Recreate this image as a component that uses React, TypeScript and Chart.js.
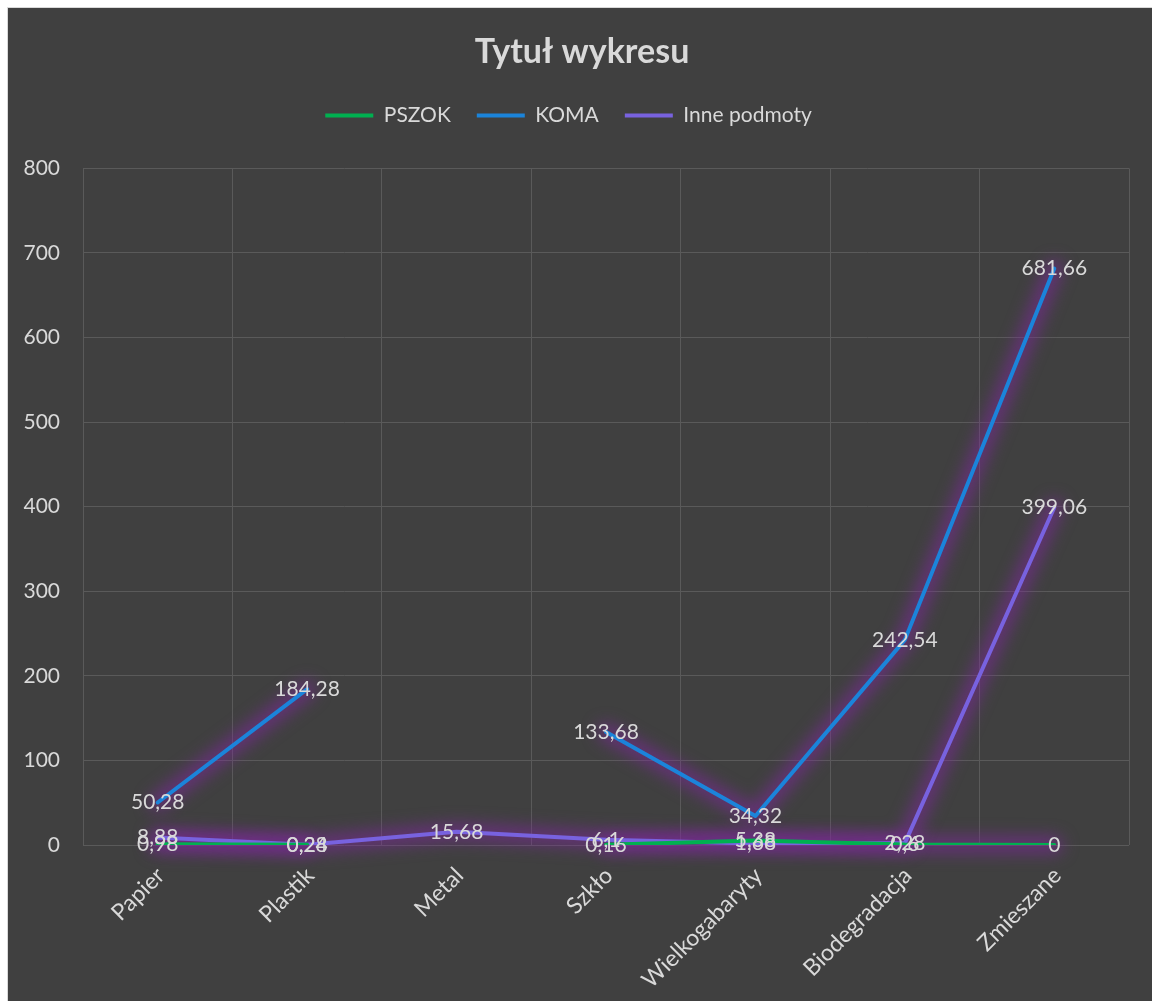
import React, { useEffect, useRef } from 'react';
import { Chart, registerables } from 'chart.js';

Chart.register(...registerables);

// ---- data ----
const categories = ['Papier', 'Plastik', 'Metal', 'Szkło', 'Wielkogabaryty', 'Biodegradacja', 'Zmieszane'];
const seriesNames = ['PSZOK', 'KOMA', 'Inne podmoty'];
const pszokValues = [0.98, 0.24, null, 0.16, 5.38, 0.6, 0];
const komaValues = [50.28, 184.28, null, 133.68, 34.32, 242.54, 681.66];
const inneValues = [8.88, 0.28, 15.68, 6.1, 1.68, 2.28, 399.06];
const yTickValues = [0, 100, 200, 300, 400, 500, 600, 700, 800];
const chartTitle = 'Tytuł wykresu';

// ---- styles ----
const seriesColors = ['#00B050', '#1B84DA', '#7862DF'];
const textColor = '#d9d9d9';
const gridColor = '#5a5a5a';
const bgColor = '#404040';
const FONT = 'Lato';

const fmt = (v: number) => String(v).replace('.', ',');

const glowPlugin = {
  id: 'glowPlugin',
  beforeDatasetsDraw(chart: any) {
    const ctx = chart.ctx;
    ctx.save();
    ctx.filter = 'blur(8px)';
    ctx.strokeStyle = 'rgba(125,40,155,0.6)';
    ctx.lineWidth = 18;
    ctx.lineJoin = 'round';
    ctx.lineCap = 'round';
    chart.data.datasets.forEach((ds: any, i: number) => {
      const meta = chart.getDatasetMeta(i);
      ctx.beginPath();
      let pen = false;
      meta.data.forEach((pt: any, j: number) => {
        if (ds.data[j] == null) {
          pen = false;
          return;
        }
        if (!pen) {
          ctx.moveTo(pt.x, pt.y);
          pen = true;
        } else {
          ctx.lineTo(pt.x, pt.y);
        }
      });
      ctx.stroke();
    });
    ctx.restore();
  },
};

const labelPlugin = {
  id: 'labelPlugin',
  afterDatasetsDraw(chart: any) {
    const ctx = chart.ctx;
    ctx.save();
    ctx.font = `21px ${FONT}`;
    ctx.fillStyle = textColor;
    ctx.textAlign = 'center';
    ctx.textBaseline = 'middle';
    chart.data.datasets.forEach((ds: any, i: number) => {
      const meta = chart.getDatasetMeta(i);
      meta.data.forEach((pt: any, j: number) => {
        const v = ds.data[j];
        if (v == null) return;
        ctx.fillText(fmt(v), pt.x, pt.y);
      });
    });
    ctx.restore();
  },
};

// chart title, centred like the original (slightly right of the legend)
const titlePlugin = {
  id: 'titlePlugin',
  afterDraw(chart: any) {
    const ctx = chart.ctx;
    ctx.save();
    ctx.font = `bold 34px ${FONT}`;
    ctx.fillStyle = textColor;
    ctx.textAlign = 'center';
    ctx.textBaseline = 'middle';
    ctx.fillText(chartTitle, 574, 44);
    ctx.restore();
  },
};

export default function App() {
  const ref = useRef<HTMLCanvasElement>(null);

  useEffect(() => {
    if (!ref.current) return;
    Chart.defaults.font.family = FONT;
    Chart.defaults.color = textColor;
    const allValues = [pszokValues, komaValues, inneValues];
    const chart = new Chart(ref.current, {
      type: 'line',
      data: {
        labels: categories,
        datasets: allValues.map((vals, i) => ({
          label: seriesNames[i],
          data: vals,
          borderColor: seriesColors[i],
          backgroundColor: seriesColors[i],
          borderWidth: 4,
          pointRadius: 0,
          pointHoverRadius: 0,
          tension: 0,
          spanGaps: false,
          borderCapStyle: 'round',
          borderJoinStyle: 'round',
        })),
      },
      options: {
        responsive: false,
        animation: false,
        events: [],
        layout: { padding: { left: 0, right: 23, top: 71, bottom: 0 } },
        plugins: {
          title: { display: false },
          subtitle: {
            display: true,
            text: '',
            weight: 100,
            font: { size: 27, lineHeight: 1.2 },
            padding: { top: 0, bottom: 0 },
          },
          legend: {
            display: true,
            position: 'top',
            labels: {
              color: textColor,
              font: { size: 21, family: FONT },
              boxWidth: 48,
              boxHeight: 4,
              padding: 26,
              generateLabels: (c: any) => {
                const items = (Chart.defaults.plugins.legend.labels as any).generateLabels(c);
                return items.map((it: any) => ({ ...it, lineWidth: 0 }));
              },
            },
          },
          tooltip: { enabled: false },
        },
        scales: {
          x: {
            offset: true,
            grid: { color: gridColor, offset: true, drawTicks: false, lineWidth: 1 },
            border: { display: false },
            ticks: {
              color: textColor,
              font: { size: 23, family: FONT },
              maxRotation: 45,
              minRotation: 45,
              padding: 17,
              labelOffset: 3,
              autoSkip: false,
            },
            afterFit: (scale: any) => {
              scale.height = 156;
            },
          },
          y: {
            min: yTickValues[0],
            max: yTickValues[yTickValues.length - 1],
            grid: { color: gridColor, drawTicks: false, lineWidth: 1 },
            border: { display: false },
            ticks: {
              color: textColor,
              font: { size: 21, family: FONT },
              padding: 23,
            },
            afterBuildTicks: (scale: any) => {
              scale.ticks = yTickValues.map((v) => ({ value: v }));
            },
            afterFit: (scale: any) => {
              scale.width = 75;
            },
          },
        },
      },
      plugins: [glowPlugin, labelPlugin, titlePlugin],
    } as any);
    return () => chart.destroy();
  }, []);

  return (
    <div
      style={{
        position: 'fixed',
        left: 7,
        top: 7,
        right: 0,
        bottom: 0,
        borderLeft: '1px solid #d9d9d9',
        borderTop: '1px solid #d9d9d9',
        background: bgColor,
        overflow: 'hidden',
      }}
    >
      <canvas ref={ref} width={1144} height={993} style={{ display: 'block' }} />
    </div>
  );
}
